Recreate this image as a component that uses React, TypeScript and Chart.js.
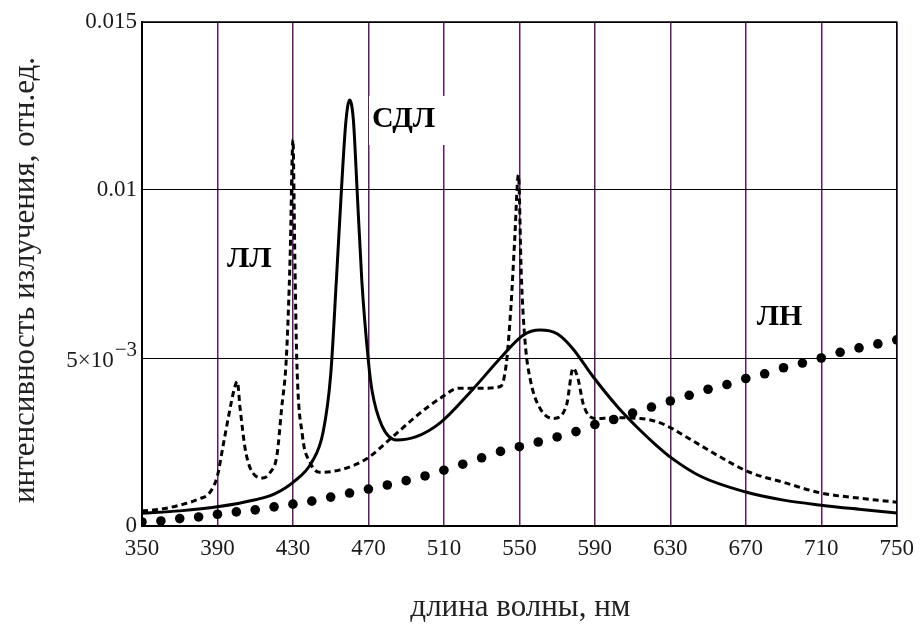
import React, { useEffect, useRef } from "react";
import { Chart, registerables } from "chart.js";

Chart.register(...registerables);

// ЛН – incandescent lamp (dots)
const lnNm = [350, 360, 370, 380, 390, 400, 410, 420, 430, 440, 450, 460, 470, 480, 490, 500, 510, 520, 530, 540, 550, 560, 570, 580, 590, 600, 610, 620, 630, 640, 650, 660, 670, 680, 690, 700, 710, 720, 730, 740, 750];
const lnVal = [0.00012, 0.00015, 0.00022, 0.00027, 0.00035, 0.00042, 0.00048, 0.00057, 0.00065, 0.00074, 0.00086, 0.00098, 0.0011, 0.00122, 0.00135, 0.00149, 0.00166, 0.00184, 0.00203, 0.00222, 0.00236, 0.0025, 0.00265, 0.00281, 0.00302, 0.00317, 0.00336, 0.00354, 0.00372, 0.00389, 0.00407, 0.00421, 0.00439, 0.00453, 0.00471, 0.00485, 0.005, 0.00517, 0.0053, 0.00542, 0.00554];

// СДЛ – LED (solid)
const sdlNm = [350, 370, 390, 410, 420, 430, 440, 446, 450, 453, 456, 458, 460, 462, 464, 466.5, 470, 472, 477, 485, 495, 508, 525, 540, 552, 561, 570, 578, 589, 602, 614, 623, 630, 646, 670, 690, 710, 730, 750];
const sdlVal = [0.00038, 0.00045, 0.00057, 0.00078, 0.00095, 0.0013, 0.0019, 0.0028, 0.0045, 0.0073, 0.0103, 0.012, 0.01268, 0.0121, 0.01, 0.0073, 0.0049, 0.004, 0.003, 0.00256, 0.00265, 0.00307, 0.00405, 0.005, 0.00568, 0.00583, 0.00572, 0.0053, 0.00445, 0.00355, 0.00285, 0.00238, 0.00205, 0.00148, 0.00101, 0.00077, 0.00062, 0.0005, 0.00039];

// ЛЛ – fluorescent lamp (dashed)
const llNm = [350, 360, 372, 380, 386, 390, 393, 396, 399, 400.5, 402, 405, 410, 414, 418, 421.5, 424, 426.5, 428.5, 430, 431, 432, 435, 439, 444, 455, 469, 481, 496, 508, 518, 530, 540, 543, 545.5, 547.5, 549.5, 551, 553, 556, 561, 568, 575, 578.5, 581, 584, 590, 600, 614, 623, 631, 637, 649, 655, 672, 690, 710, 730, 750];
const llVal = [0.00045, 0.0005, 0.00065, 0.0008, 0.001, 0.0015, 0.0024, 0.0033, 0.0041, 0.0043, 0.0035, 0.0022, 0.0015, 0.00143, 0.0016, 0.0021, 0.0035, 0.005, 0.008, 0.0115, 0.008, 0.005, 0.0027, 0.0019, 0.0016, 0.00167, 0.002, 0.00256, 0.0033, 0.0038, 0.0041, 0.0041, 0.00415, 0.0048, 0.0065, 0.0085, 0.01045, 0.0075, 0.0055, 0.0043, 0.0035, 0.0032, 0.0036, 0.0047, 0.0044, 0.0036, 0.0032, 0.00322, 0.0032, 0.0031, 0.0029, 0.0027, 0.0023, 0.0021, 0.0016, 0.0013, 0.00098, 0.00083, 0.00071];

const xTicks = [350, 390, 430, 470, 510, 550, 590, 630, 670, 710, 750];
const yTicks = [0, 0.005, 0.01, 0.015];
const yTickLabels = ["0", "", "0.01", "0.015"];
// the 5×10^-3 tick is drawn with a real superscript
const yTickBase = "5×10";
const yTickExp = "−3";
const yTickExpValue = 0.005;

const curveLabels = ["СДЛ", "ЛЛ", "ЛН"];
const curveLabelNm = [471.9, 395, 675.8];
const curveLabelVal = [0.01187, 0.0077, 0.00598];

const xTitle = "длина волны, нм";
const yTitle = "интенсивность излучения, отн.ед.";

const SERIF = "'Liberation Serif', 'Times New Roman', serif";

export default function App() {
  const ref = useRef<HTMLCanvasElement | null>(null);
  useEffect(() => {
    const canvas = ref.current;
    if (!canvas) return;
    const overlay = {
      id: "overlay",
      beforeDatasetsDraw(chart: any) {
        const { ctx, chartArea: a, scales } = chart;
        ctx.save();
        // white box behind СДЛ label
        const x0 = scales.x.getPixelForValue(curveLabelNm[0]) - 3;
        const x1 = scales.x.getPixelForValue(511.5);
        const y0 = scales.y.getPixelForValue(0.0128);
        const y1 = scales.y.getPixelForValue(0.01134);
        ctx.fillStyle = "#fff";
        ctx.fillRect(x0, y0, x1 - x0, y1 - y0);
        // frame
        ctx.strokeStyle = "#000";
        ctx.lineWidth = 1.5;
        ctx.strokeRect(a.left, a.top, a.right - a.left, a.bottom - a.top);
        ctx.restore();
      },
      afterDatasetsDraw(chart: any) {
        const { ctx, chartArea: a, scales } = chart;
        ctx.save();
        ctx.fillStyle = "#000";
        ctx.textBaseline = "alphabetic";
        ctx.textAlign = "left";
        curveLabels.forEach((t, i) => {
          ctx.font = `bold 30px ${SERIF}`;
          ctx.fillText(t, scales.x.getPixelForValue(curveLabelNm[i]), scales.y.getPixelForValue(curveLabelVal[i]));
        });
        // superscript tick label
        ctx.fillStyle = "#1a1a1a";
        ctx.textAlign = "right";
        const ty = scales.y.getPixelForValue(yTickExpValue);
        const right = a.left - 5;
        ctx.font = `21px ${SERIF}`;
        const expW = ctx.measureText(yTickExp).width;
        ctx.fillText(yTickExp, right, ty - 2);
        ctx.font = `23px ${SERIF}`;
        ctx.fillText(yTickBase, right - expW - 1, ty + 9);
        // axis titles
        ctx.fillStyle = "#222";
        ctx.font = `31px ${SERIF}`;
        ctx.textAlign = "center";
        ctx.textBaseline = "middle";
        ctx.fillText(xTitle, (a.left + a.right) / 2 + 1, 608);
        ctx.translate(26, 280);
        ctx.rotate(-Math.PI / 2);
        ctx.fillText(yTitle, 0, 0);
        ctx.restore();
      },
    };
    const chart = new Chart(canvas, {
      type: "line",
      data: {
        datasets: [
          {
            label: "СДЛ",
            data: sdlNm.map((x, i) => ({ x, y: sdlVal[i] })),
            borderColor: "#000",
            borderWidth: 3,
            pointRadius: 0,
            cubicInterpolationMode: "monotone",
            fill: false,
          },
          {
            label: "ЛЛ",
            data: llNm.map((x, i) => ({ x, y: llVal[i] })),
            borderColor: "#000",
            borderWidth: 3,
            borderDash: [6, 4],
            pointRadius: 0,
            cubicInterpolationMode: "monotone",
            fill: false,
          },
          {
            label: "ЛН",
            data: lnNm.map((x, i) => ({ x, y: lnVal[i] })),
            showLine: false,
            pointRadius: 4.8,
            pointBackgroundColor: "#000",
            pointBorderColor: "#000",
            pointBorderWidth: 0,
          },
        ],
      },
      options: {
        animation: false,
        responsive: false,
        layout: { padding: { top: 22, right: 26, left: 0, bottom: 0 } },
        plugins: { legend: { display: false }, tooltip: { enabled: false } },
        scales: {
          x: {
            type: "linear",
            min: 350,
            max: 750,
            afterBuildTicks(scale: any) {
              scale.ticks = xTicks.map((v) => ({ value: v }));
            },
            afterFit(scale: any) {
              scale.height = 102;
            },
            grid: { color: "#5b1e5e", lineWidth: 1.5, drawTicks: false },
            border: { display: true, color: "#000", width: 2 },
            ticks: {
              padding: 9,
              maxRotation: 0,
              autoSkip: false,
              color: "#1a1a1a",
              font: { family: SERIF, size: 23 },
              callback: (v: any) => String(v),
            },
          },
          y: {
            min: 0,
            max: 0.015,
            afterBuildTicks(scale: any) {
              scale.ticks = yTicks.map((v) => ({ value: v }));
            },
            afterFit(scale: any) {
              scale.width = 142;
            },
            grid: { color: "#000", lineWidth: 1, drawTicks: false },
            border: { display: true, color: "#000", width: 2 },
            ticks: {
              padding: 5,
              color: "#1a1a1a",
              font: { family: SERIF, size: 23 },
              callback: (_v: any, i: number) => yTickLabels[i],
            },
          },
        },
      },
      plugins: [overlay],
    } as any);
    return () => chart.destroy();
  }, []);
  return (
    <div style={{ position: "fixed", left: 0, top: 0, width: 923, height: 628, background: "#fff" }}>
      <canvas ref={ref} width={923} height={628} style={{ width: 923, height: 628 }} />
    </div>
  );
}
